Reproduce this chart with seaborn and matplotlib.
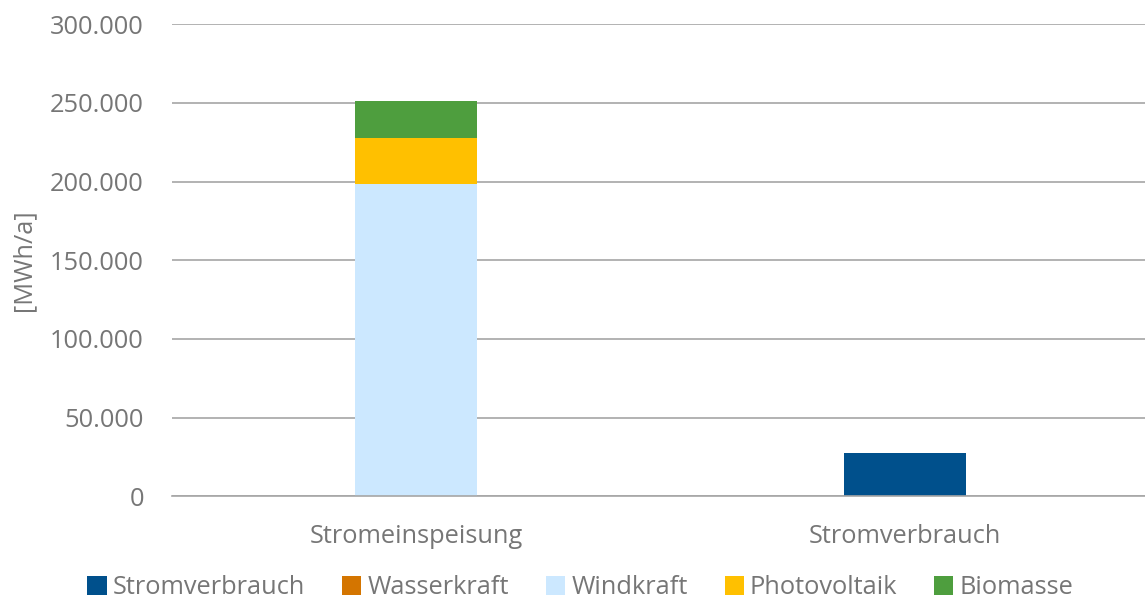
import matplotlib
matplotlib.use("Agg")
import matplotlib.pyplot as plt
import pandas as pd
import seaborn as sns
from matplotlib.patches import Patch
from matplotlib.ticker import FuncFormatter, FixedLocator

categories = ["Stromeinspeisung", "Stromverbrauch"]
series_names = ["Stromverbrauch", "Wasserkraft", "Windkraft", "Photovoltaik", "Biomasse"]
stromverbrauch = [0, 27800]
wasserkraft = [0, 0]
windkraft = [198300, 0]
photovoltaik = [29600, 0]
biomasse = [23100, 0]
colors = ["#00508C", "#D47500", "#CCE8FF", "#FFC000", "#4E9E3E"]

sns.set_theme(style="white")
plt.rcParams["font.family"] = ["Open Sans", "DejaVu Sans"]
text_color = "#767676"
grid_color = "#A6A6A6"
fs = 18.3

values = [stromverbrauch, wasserkraft, windkraft, photovoltaik, biomasse]
rows = []
for name, vals in zip(series_names, values):
    for cat, v in zip(categories, vals):
        rows.append({"Kategorie": cat, "Serie": name, "Wert": v})
df = pd.DataFrame(rows)
df["Serie"] = pd.Categorical(df["Serie"], categories=series_names, ordered=True)
df = df.sort_values(["Kategorie", "Serie"])
df["Kumuliert"] = df.groupby("Kategorie")["Wert"].cumsum()

fig = plt.figure(figsize=(11.45, 6.06), dpi=100)
ax = fig.add_axes([0.150, 0.181, 0.850, 0.779])

# draw from top of stack down so lower segments cover upper ones
for name, color in reversed(list(zip(series_names, colors))):
    sub = df[df["Serie"] == name]
    sns.barplot(data=sub, x="Kategorie", y="Kumuliert", order=categories,
                color=color, width=0.25, saturation=1, ax=ax, linewidth=0)

ax.set_ylim(0, 300000)
ax.set_xlim(-0.5, 1.49)
ax.yaxis.set_major_locator(FixedLocator(range(0, 300001, 50000)))
ax.yaxis.set_major_formatter(FuncFormatter(lambda v, p: f"{int(v):,}".replace(",", ".")))
ax.yaxis.grid(True, color=grid_color, linewidth=1.2)
ax.set_axisbelow(True)

for s in ["top", "right", "left"]:
    ax.spines[s].set_visible(False)
ax.spines["bottom"].set_color(grid_color)
ax.spines["bottom"].set_linewidth(1.2)
ax.spines["bottom"].set_zorder(5)

ax.tick_params(axis="y", length=0, pad=20, labelsize=fs, labelcolor=text_color)
ax.tick_params(axis="x", which="major", length=0, pad=20, labelsize=fs, labelcolor=text_color)
ax.xaxis.set_minor_locator(FixedLocator([-0.5, 0.5, 1.5]))
ax.tick_params(axis="x", which="minor", length=7, width=1.2, color=grid_color, direction="out")

ax.set_xlabel("")
ax.set_ylabel("[MWh/a]", fontsize=fs, color=text_color, labelpad=10)

handles = [Patch(facecolor=c, edgecolor="none", label=n) for n, c in zip(series_names, colors)]
fig.legend(handles=handles, loc="lower center", bbox_to_anchor=(0.507, -0.028), ncol=5,
           frameon=False, fontsize=fs, labelcolor=text_color, handlelength=0.75,
           handleheight=0.75, handletextpad=0.25, columnspacing=1.45)

fig.savefig("out.png", dpi=100)
plt.close(fig)
